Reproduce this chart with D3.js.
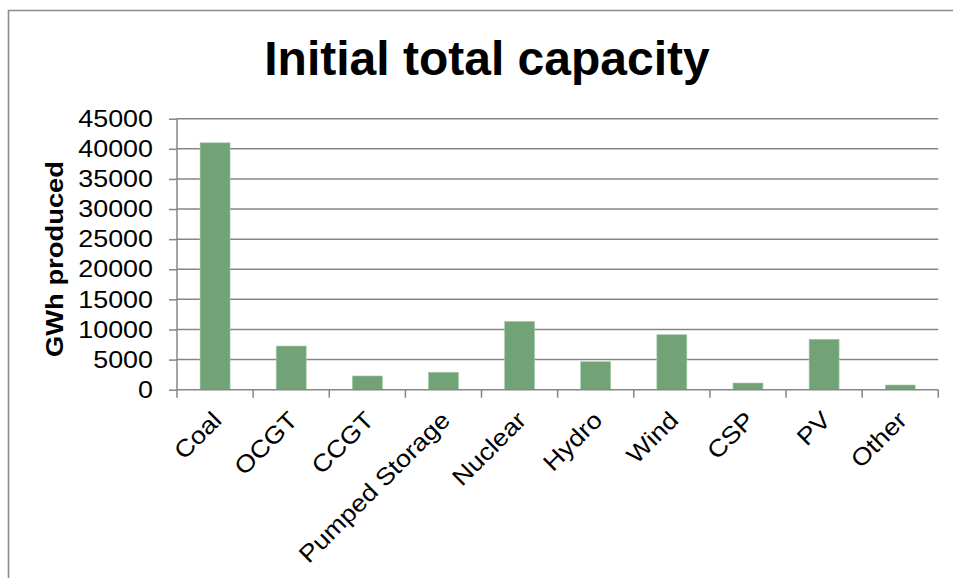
<!DOCTYPE html>
<html>
<head>
<meta charset="utf-8">
<script src="https://cdn.jsdelivr.net/npm/d3@7"></script>
<style>
  html, body { margin: 0; padding: 0; background: #fff; }
  svg { display: block; }
  text { font-family: "Liberation Sans", Arial, sans-serif; fill: #000; }
</style>
</head>
<body>
<svg id="chart" width="953" height="578"></svg>
<script>
const categories = ["Coal", "OCGT", "CCGT", "Pumped Storage", "Nuclear", "Hydro", "Wind", "CSP", "PV", "Other"];
const values = [41000, 7250, 2280, 2900, 11350, 4650, 9130, 1110, 8380, 780];
const yTicks = [0, 5000, 10000, 15000, 20000, 25000, 30000, 35000, 40000, 45000];
const titleText = "Initial total capacity";
const yTitle = "GWh produced";

(function () {
const svg = d3.select("#chart");
const W = 953, H = 578;
const pLeft = 177, pRight = 938.3, pTop = 118.7, pBottom = 389.7;
const widen = 1.12;

function stretch(sel, k) {
  sel.each(function () {
    const len = this.getComputedTextLength();
    d3.select(this).attr("textLength", len * k).attr("lengthAdjust", "spacingAndGlyphs");
  });
}

// outer frame (left and top edges visible)
svg.append("path")
  .attr("d", `M8.5,${H} L8.5,10.5 L${W},10.5`)
  .attr("fill", "none").attr("stroke", "#8a8a8a").attr("stroke-width", 1.6);

const x = d3.scaleBand().domain(categories).range([pLeft, pRight]).paddingInner(0.606).paddingOuter(0.303);
const y = d3.scaleLinear().domain([0, 45000]).range([pBottom, pTop]);

// gridlines
svg.append("g").selectAll("line").data(yTicks.filter(d => d > 0)).join("line")
  .attr("x1", pLeft).attr("x2", pRight)
  .attr("y1", d => y(d)).attr("y2", d => y(d))
  .attr("stroke", "#868686").attr("stroke-width", 1.5);

// y axis
const yAxis = svg.append("g").attr("transform", `translate(${pLeft},0)`)
  .call(d3.axisLeft(y).tickValues(yTicks).tickSize(8).tickPadding(16).tickFormat(d3.format("d")));
yAxis.select(".domain").attr("stroke", "#868686").attr("stroke-width", 1.5).attr("d", `M0,${pTop}V${pBottom}`);
yAxis.selectAll(".tick line").attr("stroke", "#868686").attr("stroke-width", 1.5);
const yTickText = yAxis.selectAll(".tick text").attr("font-size", 24)
  .attr("font-family", "Liberation Sans, Arial, sans-serif").attr("fill", "#000");
stretch(yTickText, widen);

// bars
svg.append("g").selectAll("rect").data(categories).join("rect")
  .attr("x", d => x(d))
  .attr("width", x.bandwidth())
  .attr("y", (d, i) => y(values[i]))
  .attr("height", (d, i) => pBottom - y(values[i]))
  .attr("fill", "#72a377")
  .attr("stroke", "#a9cbac").attr("stroke-width", 0.6);

// x axis line & boundary ticks
const step = x.step();
const bounds = d3.range(categories.length + 1).map(i => pLeft + i * step);
svg.append("line").attr("x1", pLeft).attr("x2", pRight).attr("y1", pBottom).attr("y2", pBottom)
  .attr("stroke", "#868686").attr("stroke-width", 1.5);
svg.append("g").selectAll("line").data(bounds).join("line")
  .attr("x1", d => d).attr("x2", d => d).attr("y1", pBottom).attr("y2", pBottom + 8)
  .attr("stroke", "#868686").attr("stroke-width", 1.5);

// x labels rotated
const xl = svg.append("g").selectAll("text").data(categories).join("text")
  .attr("transform", d => `translate(${x(d) + x.bandwidth() / 2 + 8},${pBottom + 32}) rotate(-45)`)
  .attr("text-anchor", "end")
  .attr("font-size", 24)
  .text(d => d);
stretch(xl, widen);

// y title
const yt = svg.append("text")
  .attr("transform", `translate(63,259) rotate(-90)`)
  .attr("text-anchor", "middle")
  .attr("font-size", 24).attr("font-weight", "bold")
  .text(yTitle);
stretch(yt, 1.14);

// title
svg.append("text")
  .attr("x", 487).attr("y", 75)
  .attr("text-anchor", "middle")
  .attr("font-size", 48).attr("font-weight", "bold")
  .text(titleText);
})();
</script>
</body>
</html>
